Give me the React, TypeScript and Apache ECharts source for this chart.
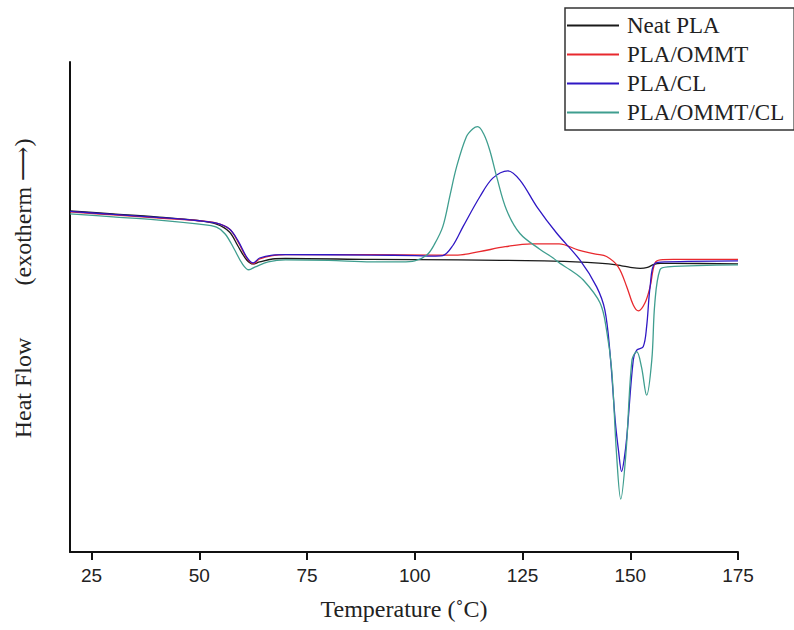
import React, { useEffect, useRef } from "react";
import * as echarts from "echarts";

// Tick labels on the temperature axis (°C)
const xTicks = [25, 50, 75, 100, 125, 150, 175];

const seriesNames = ["Neat PLA", "PLA/OMMT", "PLA/CL", "PLA/OMMT/CL"];
const seriesColors = ["#1a1a1a", "#e8292e", "#2f17c4", "#3f9e8f"];

// Heat flow (arbitrary units, exotherm up) vs temperature (°C)
const neatT = [20, 30, 40, 50, 54, 57, 59, 61, 62.5, 64, 67, 70, 90, 110, 130, 140, 145, 148, 150, 152.3, 154, 155.5, 157, 160, 175];
const neatHF = [69.6, 69.0, 68.4, 67.6, 66.9, 65.3, 62.4, 59.6, 58.8, 59.2, 59.8, 59.9, 59.7, 59.6, 59.4, 59.1, 58.8, 58.4, 58.1, 57.9, 58.1, 58.7, 58.9, 58.9, 58.8];

const ommtT = [20, 30, 40, 50, 54, 57, 59, 61, 62.5, 64, 67, 70, 90, 105, 110, 115, 121, 127, 133.5, 138, 142, 144.5, 147.2, 149.2, 150.7, 151.9, 153.4, 154.6, 155.7, 157, 160, 175];
const ommtHF = [69.4, 68.8, 68.2, 67.6, 67.1, 65.9, 63.3, 60.0, 58.8, 59.8, 60.5, 60.7, 60.7, 60.6, 60.6, 61.3, 62.3, 62.9, 62.9, 61.6, 60.8, 60.3, 58.2, 54.1, 50.4, 49.2, 50.8, 54.1, 58.9, 59.6, 59.7, 59.7];

const clT = [20, 30, 40, 50, 54, 57, 59, 61, 62.5, 64, 67, 70, 90, 100, 104, 106.5, 108.8, 111.2, 115.1, 118.1, 121.6, 124.4, 128.3, 132.9, 138.3, 142.2, 144.1, 145.3, 146.5, 147.3, 148.0, 148.6, 149.2, 150.7, 151.5, 153.0, 153.8, 154.6, 155.7, 158.4, 175];
const clHF = [69.5, 68.9, 68.3, 67.6, 67.1, 65.9, 63.5, 60.2, 59.0, 60.0, 60.6, 60.7, 60.6, 60.5, 60.4, 60.5, 62.5, 66.4, 72.5, 76.3, 77.8, 75.9, 70.5, 65.1, 59.6, 54.1, 49.4, 40.6, 26.9, 20.5, 16.4, 19.0, 23.5, 39.2, 41.2, 41.9, 46.0, 54.1, 58.9, 59.2, 59.4];

const ommtClT = [20, 30, 40, 50, 54, 56, 58, 60, 61.5, 63, 66, 70, 80, 90, 97, 100, 102.8, 104.5, 106.5, 108.2, 109.7, 112.0, 113.5, 114.6, 116.0, 117.4, 119.0, 121.3, 124.4, 129.0, 132.1, 133.7, 136.0, 139.1, 143.0, 144.5, 145.7, 146.8, 147.8, 149.0, 150.4, 151.5, 152.6, 153.8, 155.0, 155.7, 156.9, 158.7, 175];
const ommtClHF = [69.0, 68.4, 67.8, 66.9, 66.3, 64.9, 62.0, 58.8, 57.6, 58.2, 59.2, 59.6, 59.5, 59.2, 59.2, 59.4, 60.6, 62.7, 66.4, 72.9, 78.6, 84.8, 86.4, 86.8, 85.3, 82.0, 76.6, 69.8, 65.0, 61.8, 60.0, 58.9, 57.6, 55.5, 50.8, 45.3, 37.1, 20.2, 10.8, 20.2, 39.2, 40.9, 37.8, 32.0, 39.2, 50.8, 57.6, 58.2, 58.6];

const allT = [neatT, ommtT, clT, ommtClT];
const allHF = [neatHF, ommtHF, clHF, ommtClHF];

const zip = (a: number[], b: number[]) => a.map((t, i) => [t, b[i]]);

export default function App() {
  const ref = useRef<HTMLDivElement>(null);
  useEffect(() => {
    if (!ref.current) return;
    const chart = echarts.init(ref.current, null, { renderer: "svg" });
    const serif = '"Liberation Serif", "Times New Roman", serif';
    chart.setOption({
      animation: false,
      backgroundColor: "#ffffff",
      grid: { left: 70, right: 56, top: 62, bottom: 78 },
      xAxis: {
        type: "value",
        min: 20,
        max: 175,
        name: "Temperature (˚C)",
        nameLocation: "middle",
        nameGap: 45,
        nameTextStyle: { fontFamily: serif, fontSize: 24, color: "#222" },
        axisLine: { show: true, onZero: false, lineStyle: { color: "#111", width: 2 } },
        axisTick: { show: true, customValues: xTicks, length: 8, lineStyle: { color: "#111", width: 2 } },
        axisLabel: {
          customValues: xTicks,
          margin: 14,
          fontFamily: '"Liberation Sans Narrow", "Arial Narrow", "Liberation Sans", Arial, sans-serif',
          fontSize: 19,
          color: "#222",
        },
        splitLine: { show: false },
      },
      yAxis: {
        type: "value",
        min: 0,
        max: 100,
        axisLine: { show: true, onZero: false, lineStyle: { color: "#111", width: 2 } },
        axisTick: { show: false },
        axisLabel: { show: false },
        splitLine: { show: false },
      },
      legend: {
        orient: "vertical",
        left: 565,
        top: 8,
        padding: [6, 10, 6, 2],
        itemGap: 6,
        itemWidth: 52,
        itemHeight: 2,
        icon: "rect",
        borderColor: "#333",
        borderWidth: 1.5,
        backgroundColor: "#fff",
        textStyle: { fontFamily: serif, fontSize: 23, color: "#222", lineHeight: 23, padding: [0, 0, 0, 3] },
        data: seriesNames,
      },
      graphic: [
        {
          type: "text",
          x: 23,
          y: 388,
          rotation: Math.PI / 2,
          style: { text: "Heat Flow", font: '24px "Liberation Serif"', fill: "#222", align: "center", verticalAlign: "middle" },
        },
        {
          type: "text",
          x: 23,
          y: 212,
          rotation: Math.PI / 2,
          style: { text: "(exotherm ⟶)", font: '24px "Liberation Serif", "DejaVu Serif"', fill: "#222", align: "center", verticalAlign: "middle" },
        },
      ],
      series: seriesNames.map((name, i) => ({
        name,
        type: "line",
        data: zip(allT[i], allHF[i]),
        showSymbol: false,
        symbol: "none",
        smooth: 0.35,
        lineStyle: { color: seriesColors[i], width: 1.3 },
        itemStyle: { color: seriesColors[i] },
        z: 2 + i,
      })),
    });
    return () => chart.dispose();
  }, []);
  return <div ref={ref} style={{ position: "fixed", left: 0, top: 0, width: 794, height: 630 }} />;
}
